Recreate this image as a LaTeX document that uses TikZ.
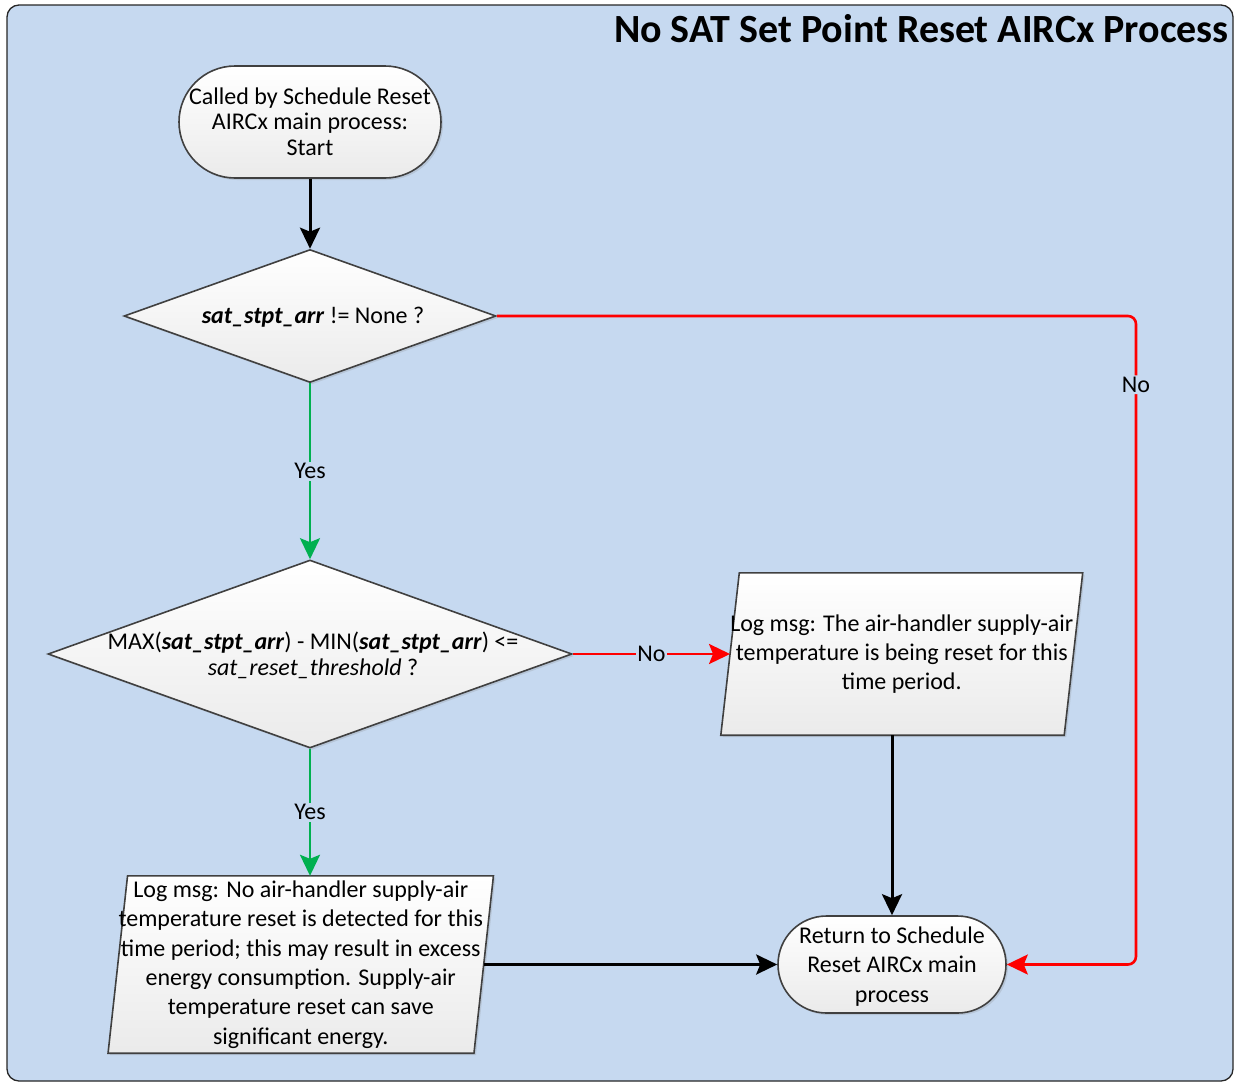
\documentclass[tikz,border=0pt]{standalone}
\usepackage{fontspec}
\setmainfont{Carlito}
\usetikzlibrary{shapes.geometric,shapes.misc,arrows.meta,shadows}
\pgfdeclarelayer{frame}
\pgfdeclarelayer{background}
\pgfsetlayers{frame,background,main}
\definecolor{panelblue}{RGB}{198,217,240}
\definecolor{edgegray}{RGB}{64,64,64}
\definecolor{yesgreen}{RGB}{0,176,80}
\definecolor{nored}{RGB}{255,0,0}
\newcommand{\varname}[1]{\textbf{\textit{#1}}}

\begin{document}
\begin{tikzpicture}[x=1pt,y=-1pt,
  shapefill/.style={draw=edgegray, line width=1.6pt, top color=white, bottom color=black!8,
    drop shadow={shadow xshift=2pt,shadow yshift=-2pt,opacity=0.22}},
  terminal/.style={shapefill, rounded rectangle, inner sep=0pt},
  decision/.style={shapefill, diamond, inner sep=0pt},
  body/.style={align=center, inner sep=0pt, font=\fontsize{24}{29}\selectfont},
  iobox/.style={rectangle, inner sep=0pt, align=center, font=\fontsize{24}{29.3}\selectfont},
  flow/.style={line width=3pt, -{Stealth[length=21pt,width=20pt,inset=4pt]}},
  yesflow/.style={flow, line width=2.6pt, yesgreen},
  noflow/.style={flow, line width=2.6pt, nored},
  lbl/.style={fill=panelblue, inner sep=1.5pt, text=black, font=\fontsize{24}{28}\selectfont}]

\useasboundingbox (0,0) rectangle (1241,1084);

% panel with title
\begin{pgfonlayer}{frame}
  \draw[rounded corners=12pt, fill=panelblue, draw=black!85, line width=1.3pt] (7,5) rectangle (1233,1081);
\end{pgfonlayer}
\node[anchor=base east, inner sep=0pt, font=\fontsize{40}{48}\bfseries\selectfont] (title) at (1229,42)
  {No SAT Set Point Reset AIRCx Process};

% terminals
\node[terminal, minimum width=262pt, minimum height=112pt] (start) at (310,122) {};
\node[body, font=\fontsize{24}{25.5}\selectfont] (starttext) at (310,121.5)
  {Called by Schedule Reset\\AIRCx main process:\\Start};

\node[terminal, minimum width=228pt, minimum height=97pt] (end) at (892,964.5) {};
\node[body, font=\fontsize{24}{29.5}\selectfont] (endtext) at (892,966.5)
  {Return to Schedule\\Reset AIRCx main\\process};

% decisions
\node[decision, minimum width=372pt, minimum height=133pt] (d1) at (310,316) {};
\node[body] (d1text) at (313,317) {\varname{sat\_stpt\_arr} != None ?};

\node[decision, minimum width=524pt, minimum height=188pt] (d2) at (310,654) {};
\node[body, font=\fontsize{24}{26}\selectfont] (d2text) at (313,655)
  {MAX(\varname{sat\_stpt\_arr}) - MIN(\varname{sat\_stpt\_arr}) <=\\\textit{sat\_reset\_threshold} ?};

% log messages (parallelograms)
\node[iobox, minimum width=341.5pt, minimum height=162pt] (p1) at (901.75,654)
  {Log msg: The air-handler supply-air\\temperature is being reset for this\\time period.};
\node[iobox, minimum width=365.5pt, minimum height=177pt] (p2) at (300.75,964.5)
  {Log msg: No air-handler supply-air\\temperature reset is detected for this\\time period; this may result in excess\\energy consumption. Supply-air\\temperature reset can save\\significant energy.};

\begin{pgfonlayer}{background}
  \draw[shapefill] ([xshift=9.25pt]p1.north west) -- ([xshift=9.25pt]p1.north east)
    -- ([xshift=-9.25pt]p1.south east) -- ([xshift=-9.25pt]p1.south west) -- cycle;
  \draw[shapefill] ([xshift=9.75pt]p2.north west) -- ([xshift=9.75pt]p2.north east)
    -- ([xshift=-9.75pt]p2.south east) -- ([xshift=-9.75pt]p2.south west) -- cycle;
\end{pgfonlayer}

% connectors
\coordinate (bend) at (1136,316);
\draw[flow] (start.south) -- (d1.north);
\draw[yesflow] (d1.south) -- node[lbl] (yes1) {Yes} (d2.north);
\draw[noflow] (d2.east) -- node[lbl] (no1) {No} (p1.west);
\draw[yesflow] (d2.south) -- node[lbl] (yes2) {Yes} (d2.south |- p2.north);
\draw[flow] (p1.south -| end.north) -- (end.north);
\draw[flow] (p2.east) -- (end.west);
\draw[noflow, rounded corners=8pt] (d1.east) -- (bend)
  -- node[lbl, pos=0.106] (no2) {No} (bend |- end.east) -- (end.east);

\end{tikzpicture}
\end{document}
